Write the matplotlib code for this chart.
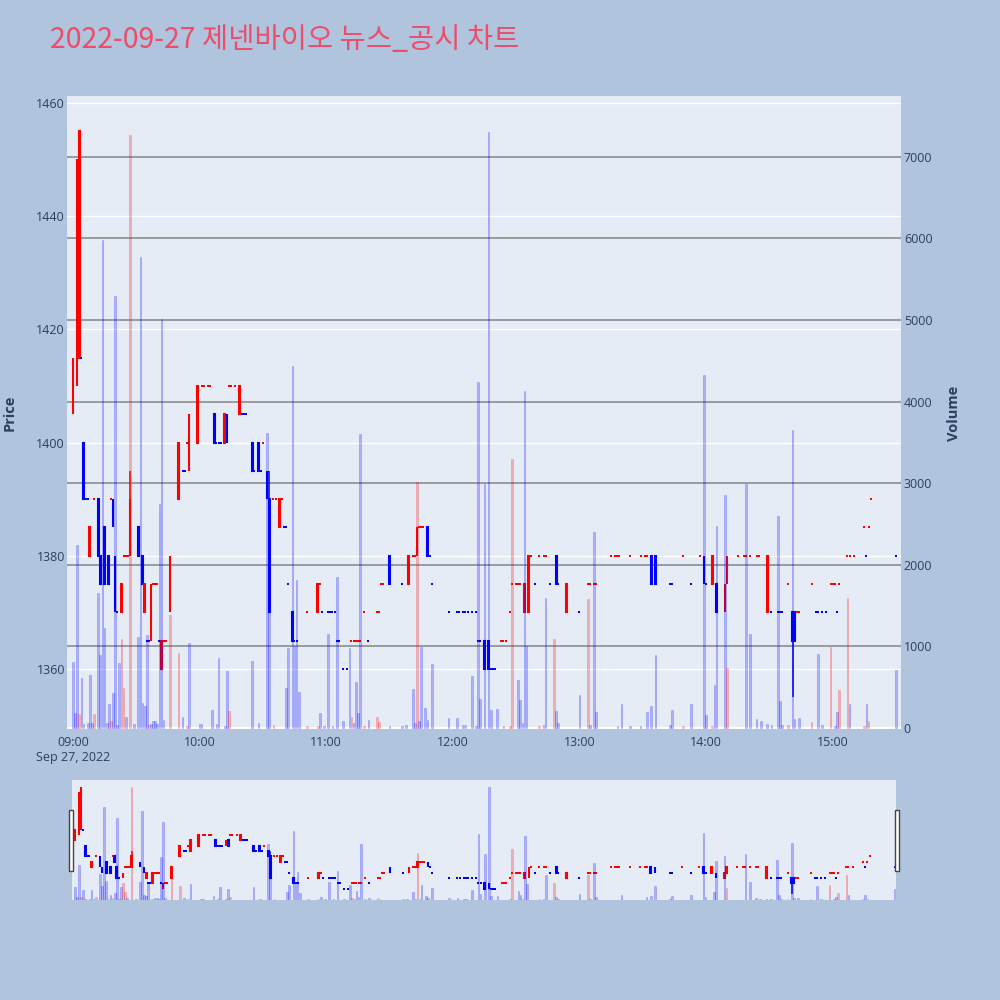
import numpy as np
import matplotlib.pyplot as plt
from matplotlib.patches import Rectangle
from matplotlib.transforms import blended_transform_factory

plt.rcParams['font.family'] = ['Open Sans', 'Noto Sans CJK KR', 'DejaVu Sans']

# 1-minute candles, x = minutes after 09:00
cndl_min = [0, 2, 3, 4, 5, 6, 7, 8, 10, 12, 13, 15, 17, 18, 19, 20, 21, 23, 24, 25,
            26, 27, 31, 33, 34, 35, 36, 37, 38, 39, 40, 41, 42, 43, 44, 46, 50, 52, 53, 54, 55, 59,
            61, 62, 64, 65, 67, 68, 69, 70, 72, 73, 74, 75, 77, 79, 80, 81, 82, 85, 86, 88, 89, 90,
            92, 93, 95, 96, 98, 99, 100, 101, 102, 104, 105, 106, 111, 116, 117, 118,
            121, 122, 123, 124, 125, 126, 128, 130, 132, 133, 134, 135, 136, 138, 140, 144, 145, 146,
            147, 150, 156, 159, 161, 162, 163, 164, 165, 166, 168, 169, 170, 178,
            182, 183, 185, 186, 187, 189, 191, 192, 193, 195, 197, 198, 199, 200, 203, 204, 205, 207,
            208, 210, 211, 212, 214, 216, 217, 219, 221, 223, 224, 226, 229, 230, 234,
            240, 244, 245, 247, 248, 255, 257, 258, 259, 264, 269, 271, 272, 274, 276, 283, 284, 289,
            293, 297, 299,
            300, 303, 305, 309, 310, 315, 318, 319, 321, 324, 325, 329, 331, 334, 335, 336, 339, 341,
            342, 343, 344, 350, 352, 353, 355, 357, 359,
            360, 361, 362, 363, 367, 368, 370, 375, 376, 377, 378, 390]
cndl_open = [1405, 1410, 1415, 1415, 1400, 1390, 1390, 1380, 1390, 1390, 1380, 1385, 1380, 1390, 1390, 1380, 1370, 1370, 1380, 1380,
             1380, 1380, 1385, 1380, 1370, 1365, 1365, 1365, 1375, 1375, 1375, 1365, 1360, 1365, 1365, 1370, 1390, 1395, 1395, 1400, 1395, 1400,
             1410, 1410, 1410, 1410, 1405, 1400, 1400, 1400, 1400, 1405, 1410, 1410, 1410, 1405, 1405, 1405, 1405, 1400, 1395, 1400, 1395, 1400,
             1395, 1390, 1390, 1390, 1385, 1390, 1385, 1385, 1375, 1370, 1365, 1365, 1370, 1370, 1375, 1370,
             1370, 1370, 1370, 1370, 1365, 1365, 1360, 1360, 1365, 1365, 1365, 1365, 1365, 1370, 1365, 1370, 1370, 1375,
             1375, 1380, 1375, 1375, 1380, 1380, 1380, 1385, 1385, 1385, 1385, 1380, 1375, 1370,
             1370, 1370, 1370, 1370, 1370, 1370, 1370, 1365, 1365, 1365, 1365, 1360, 1360, 1360, 1365, 1365, 1365, 1370,
             1375, 1375, 1375, 1375, 1370, 1370, 1380, 1375, 1380, 1380, 1380, 1375, 1380, 1375, 1370,
             1370, 1375, 1375, 1375, 1375, 1380, 1380, 1380, 1380, 1380, 1380, 1380, 1380, 1380, 1380, 1375, 1375, 1380,
             1375, 1380, 1380,
             1375, 1375, 1375, 1370, 1375, 1380, 1380, 1380, 1380, 1380, 1380, 1370, 1370, 1370, 1370, 1370, 1375, 1370,
             1370, 1370, 1370, 1375, 1370, 1370, 1370, 1370, 1375,
             1375, 1375, 1370, 1375, 1380, 1380, 1380, 1385, 1380, 1385, 1390, 1380]
cndl_high = [1415, 1450, 1455, 1415, 1400, 1390, 1390, 1385, 1390, 1390, 1380, 1385, 1380, 1390, 1390, 1380, 1370, 1375, 1380, 1380,
             1380, 1395, 1385, 1380, 1375, 1365, 1365, 1375, 1375, 1375, 1375, 1365, 1365, 1365, 1365, 1380, 1400, 1395, 1395, 1400, 1405, 1410,
             1410, 1410, 1410, 1410, 1405, 1400, 1400, 1400, 1405, 1405, 1410, 1410, 1410, 1410, 1405, 1405, 1405, 1400, 1395, 1400, 1395, 1400,
             1395, 1395, 1390, 1390, 1390, 1390, 1385, 1385, 1375, 1370, 1365, 1365, 1370, 1375, 1375, 1370,
             1370, 1370, 1370, 1370, 1365, 1365, 1360, 1360, 1365, 1365, 1365, 1365, 1365, 1370, 1365, 1370, 1370, 1375,
             1375, 1380, 1375, 1380, 1380, 1380, 1385, 1385, 1385, 1385, 1385, 1380, 1375, 1370,
             1370, 1370, 1370, 1370, 1370, 1370, 1370, 1365, 1365, 1365, 1365, 1360, 1360, 1360, 1365, 1365, 1365, 1370,
             1375, 1375, 1375, 1375, 1375, 1380, 1380, 1375, 1380, 1380, 1380, 1375, 1380, 1375, 1375,
             1370, 1375, 1375, 1375, 1375, 1380, 1380, 1380, 1380, 1380, 1380, 1380, 1380, 1380, 1380, 1375, 1375, 1380,
             1375, 1380, 1380,
             1375, 1380, 1375, 1375, 1380, 1380, 1380, 1380, 1380, 1380, 1380, 1380, 1370, 1370, 1370, 1370, 1375, 1370,
             1370, 1370, 1370, 1375, 1370, 1370, 1370, 1370, 1375,
             1375, 1375, 1370, 1375, 1380, 1380, 1380, 1385, 1380, 1385, 1390, 1380]
cndl_low = [1405, 1410, 1415, 1415, 1390, 1390, 1390, 1380, 1390, 1380, 1375, 1375, 1375, 1390, 1385, 1370, 1370, 1370, 1380, 1380,
            1380, 1380, 1380, 1375, 1370, 1365, 1365, 1365, 1375, 1375, 1375, 1365, 1360, 1365, 1365, 1370, 1390, 1395, 1395, 1400, 1395, 1400,
            1410, 1410, 1410, 1410, 1400, 1400, 1400, 1400, 1400, 1400, 1410, 1410, 1410, 1405, 1405, 1405, 1405, 1395, 1395, 1395, 1395, 1400,
            1390, 1370, 1390, 1390, 1385, 1390, 1385, 1385, 1375, 1365, 1365, 1365, 1370, 1370, 1375, 1370,
            1370, 1370, 1370, 1370, 1365, 1365, 1360, 1360, 1365, 1365, 1365, 1365, 1365, 1370, 1365, 1370, 1370, 1375,
            1375, 1375, 1375, 1375, 1380, 1380, 1380, 1385, 1385, 1385, 1380, 1380, 1375, 1370,
            1370, 1370, 1370, 1370, 1370, 1370, 1370, 1365, 1365, 1360, 1360, 1360, 1360, 1360, 1365, 1365, 1365, 1370,
            1375, 1375, 1375, 1375, 1370, 1370, 1380, 1375, 1380, 1380, 1380, 1375, 1375, 1375, 1370,
            1370, 1375, 1375, 1375, 1375, 1380, 1380, 1380, 1380, 1380, 1380, 1380, 1380, 1375, 1375, 1375, 1375, 1380,
            1375, 1380, 1375,
            1375, 1375, 1370, 1370, 1375, 1380, 1380, 1380, 1380, 1380, 1380, 1370, 1370, 1370, 1370, 1370, 1375, 1355,
            1365, 1370, 1370, 1375, 1370, 1370, 1370, 1370, 1375,
            1375, 1375, 1370, 1375, 1380, 1380, 1380, 1385, 1380, 1385, 1390, 1380]
cndl_close = [1415, 1450, 1455, 1415, 1390, 1390, 1390, 1385, 1390, 1380, 1375, 1375, 1375, 1390, 1385, 1370, 1370, 1375, 1380, 1380,
              1380, 1390, 1380, 1375, 1375, 1365, 1365, 1375, 1375, 1375, 1375, 1365, 1365, 1365, 1365, 1380, 1400, 1395, 1395, 1400, 1405, 1410,
              1410, 1410, 1410, 1410, 1400, 1400, 1400, 1400, 1405, 1400, 1410, 1410, 1410, 1410, 1405, 1405, 1405, 1395, 1395, 1395, 1395, 1400,
              1390, 1370, 1390, 1390, 1390, 1390, 1385, 1385, 1375, 1365, 1365, 1365, 1370, 1375, 1375, 1370,
              1370, 1370, 1370, 1370, 1365, 1365, 1360, 1360, 1365, 1365, 1365, 1365, 1365, 1370, 1365, 1370, 1370, 1375,
              1375, 1375, 1375, 1380, 1380, 1380, 1385, 1385, 1385, 1385, 1380, 1380, 1375, 1370,
              1370, 1370, 1370, 1370, 1370, 1370, 1370, 1365, 1365, 1360, 1360, 1360, 1360, 1360, 1365, 1365, 1365, 1370,
              1375, 1375, 1375, 1375, 1375, 1380, 1380, 1375, 1380, 1380, 1380, 1375, 1375, 1375, 1375,
              1370, 1375, 1375, 1375, 1375, 1380, 1380, 1380, 1380, 1380, 1380, 1380, 1380, 1375, 1375, 1375, 1375, 1380,
              1375, 1380, 1375,
              1375, 1380, 1370, 1375, 1380, 1380, 1380, 1380, 1380, 1380, 1380, 1380, 1370, 1370, 1370, 1370, 1375, 1365,
              1365, 1370, 1370, 1375, 1370, 1370, 1370, 1370, 1375,
              1375, 1375, 1370, 1375, 1380, 1380, 1380, 1385, 1380, 1385, 1390, 1380]

# volume per minute
vol_min = [0, 1, 2, 3, 4, 5, 7, 8, 9, 10, 12, 13, 14, 15, 16, 17, 18, 19, 20, 21, 22, 23, 24, 25, 27, 29,
           31, 32, 33, 34, 35, 36, 37, 38, 39, 40, 41, 42, 43, 46, 50, 52, 54, 55,
           60, 61, 66, 68, 69, 72, 73, 74, 85, 88, 92, 93, 95,
           101, 102, 104, 105, 106, 107, 111, 116, 117, 119, 121, 123, 125, 128, 131, 132, 133, 134, 135, 136,
           138, 140, 144, 145, 150, 156, 158, 161, 162, 163, 164, 165, 167, 168, 170, 178,
           182, 185, 186, 189, 191, 192, 193, 195, 197, 198, 201, 204, 207, 208, 211, 212, 213, 214, 215,
           221, 223, 224, 228, 229, 230,
           240, 244, 245, 247, 248, 258, 260, 264, 269, 272, 274, 276, 283, 284, 289, 293, 299,
           300, 303, 304, 305, 309, 310, 319, 321, 324, 326, 329, 331, 334, 335, 336, 339, 341, 342, 344,
           350, 353, 355, 359, 361, 362, 363, 367, 368, 375, 376, 377, 390]
volume = [812, 180, 2245, 175, 608, 50, 60, 653, 60, 175, 1650, 890, 5981, 1225, 60, 300, 90, 430, 5296, 40, 800, 1090, 490, 130, 7262, 50,
          1120, 5767, 310, 270, 1140, 40, 50, 90, 90, 50, 2750, 5017, 100, 1380, 915, 140, 30, 1040,
          50, 50, 220, 50, 860, 30, 700, 205, 823, 60, 3621, 1820, 40,
          490, 985, 4436, 1010, 1820, 443, 30, 30, 190, 30, 1157, 30, 1856, 80, 985, 130, 60, 566, 182, 3603,
          30, 100, 134, 70, 20, 30, 40, 484, 60, 3020, 80, 988, 242, 100, 787, 119,
          119, 40, 40, 640, 20, 4240, 355, 2988, 7307, 218, 230, 20, 30, 3300, 590, 343, 60, 4125, 1000,
          30, 40, 1592, 1095, 213, 60,
          405, 1587, 40, 2405, 195, 20, 292, 20, 20, 195, 269, 897, 40, 219, 20, 292, 4327,
          160, 20, 530, 2479, 2853, 735, 2992, 1148, 110, 80, 50, 40, 2603, 330, 40, 40, 3654, 110, 120,
          70, 903, 40, 988, 30, 202, 470, 1598, 292, 30, 292, 80, 710]
vol_red_min = [3, 10, 18, 23, 24, 27, 36, 46, 50, 54, 74, 95, 111, 116, 132, 138, 144, 145, 163, 207, 208,
               221, 228, 244, 289, 303, 310, 339, 350, 359, 363, 367, 375, 377]

price_ticks = [1360, 1380, 1400, 1420, 1440, 1460]
vol_ticks = [0, 1000, 2000, 3000, 4000, 5000, 6000, 7000]
time_ticks = [0, 60, 120, 180, 240, 300, 360]
time_labels = ['09:00', '10:00', '11:00', '12:00', '13:00', '14:00', '15:00']

title = '2022-09-27 제넨바이오 뉴스_공시 차트'

RED = '#FF0000'
BLUE = '#0000FF'
TXT = '#2a3f5f'

# direction of each candle (doji -> compare with previous close)
up = []
prev_c, prev_up = None, False
for o, c in zip(cndl_open, cndl_close):
    if c > o:
        d = True
    elif c < o:
        d = False
    elif prev_c is None:
        d = False
    elif c != prev_c:
        d = c > prev_c
    else:
        d = prev_up
    up.append(d)
    prev_c, prev_up = c, d
cols = [RED if d else BLUE for d in up]
vcols = [(1, 0, 0, 0.25) if m in vol_red_min else (0, 0, 1, 0.25) for m in vol_min]

body = np.array(cndl_close) - np.array(cndl_open)
flat = body == 0
cmin = np.array(cndl_min)
copen = np.array(cndl_open)
ccols = np.array(cols)

xlim = (-2.8, 392.4)
plim = (1349.4, 1461.2)
vlim = (-12, 7745)


def draw(axp, axv):
    axp.vlines(cndl_min, cndl_low, cndl_high, colors=cols, linewidth=1.1, zorder=3)
    nf = ~flat
    axp.bar(cmin[nf], body[nf], bottom=copen[nf], width=0.35, color=ccols[nf],
            edgecolor=ccols[nf], linewidth=1.5, zorder=4)
    # doji: small square
    for col in (RED, BLUE):
        sel = flat & (ccols == col)
        axp.plot(cmin[sel], copen[sel], linestyle='none', marker='s', markersize=1.8,
                 markeredgewidth=0, color=col, zorder=4)
    axv.bar(vol_min, volume, width=0.8, color=vcols, edgecolor=vcols, linewidth=0.5)
    axp.set_xlim(*xlim)
    axp.set_ylim(*plim)
    axv.set_ylim(*vlim)
    for a in (axp, axv):
        for s in a.spines.values():
            s.set_visible(False)


fig = plt.figure(figsize=(10, 10), dpi=100)
fig.patch.set_facecolor('#B0C4DE')

ax = fig.add_axes([0.067, 0.271, 0.834, 0.633])
ax.set_facecolor('#E5ECF6')
ax2 = ax.twinx()
draw(ax, ax2)

ax.set_yticks(price_ticks)
ax.grid(axis='y', color='white', linewidth=1.0, zorder=0)
ax.set_axisbelow(True)
tr = blended_transform_factory(ax.transAxes, ax2.transData)
for v in vol_ticks[1:]:
    ax.plot([0, 1], [v, v], transform=tr, color='#8c8c8c', linewidth=1.2, zorder=1)
ax.plot([0, 1], [0, 0], transform=tr, color='white', linewidth=1.6, zorder=1)

ax.set_xticks(time_ticks)
ax.set_xticklabels(time_labels)
ax2.set_yticks(vol_ticks)
ax2.set_yticklabels([str(v) for v in vol_ticks])
ax.tick_params(axis='both', length=0, labelsize=9, labelcolor=TXT)
ax.tick_params(axis='y', pad=1.5)
ax.tick_params(axis='x', pad=5)
ax2.tick_params(axis='y', length=0, labelsize=9, labelcolor=TXT, pad=2)

fig.text(0.073, 1 - 0.757, 'Sep 27, 2022', ha='center', va='center', fontsize=9, color=TXT)
fig.text(0.010, 0.587, 'Price', rotation=90, ha='center', va='center',
         fontsize=10.5, fontweight='bold', color=TXT)
fig.text(0.954, 0.587, 'Volume', rotation=90, ha='center', va='center',
         fontsize=10.5, fontweight='bold', color=TXT)
fig.text(0.050, 0.960, title, ha='left', va='center', fontsize=20.5, color='#EB4D6A',
         family=['Noto Sans CJK KR', 'DejaVu Sans'])

# range slider
axm = fig.add_axes([0.072, 0.100, 0.824, 0.120])
axm.set_facecolor('#E5ECF6')
axm2 = axm.twinx()
draw(axm, axm2)
axm.set_xlim(-1.3, 390.6)
for a in (axm, axm2):
    a.set_xticks([])
    a.set_yticks([])
for hx in (0.069, 0.895):
    fig.patches.append(Rectangle((hx, 1 - 0.871), 0.004, 0.061, transform=fig.transFigure,
                                 facecolor='white', edgecolor='#444444', linewidth=1, zorder=5))

fig.savefig('out.png', dpi=100, facecolor=fig.get_facecolor())
